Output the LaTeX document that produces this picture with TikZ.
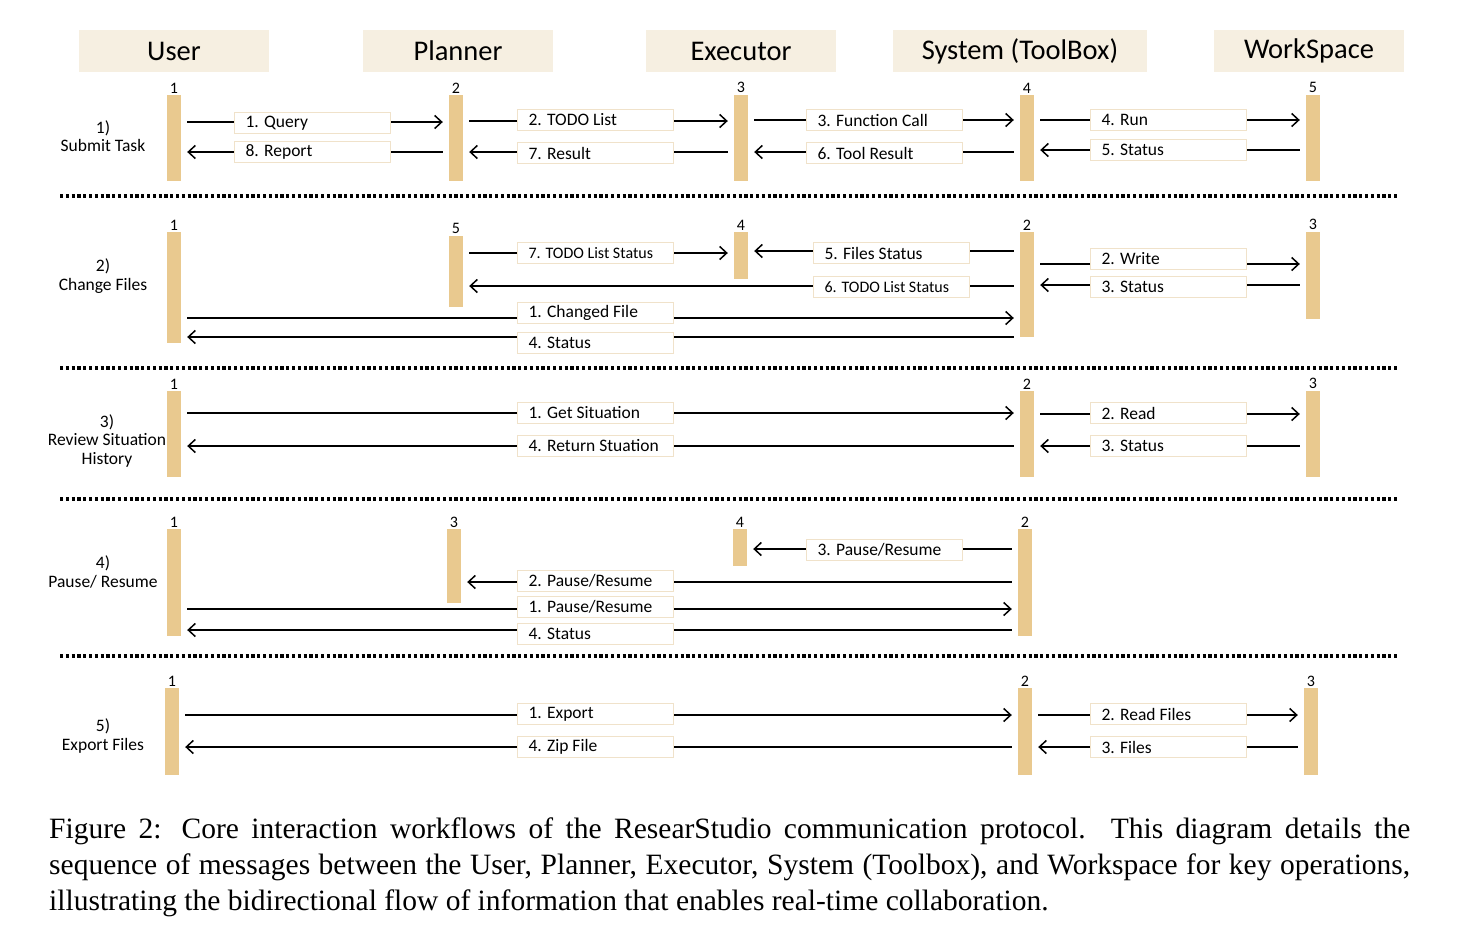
\documentclass[tikz,border=0pt]{standalone}
\usepackage{fontspec}
\setmainfont{Liberation Serif}
\setsansfont{Carlito}
\usetikzlibrary{arrows.meta}
\definecolor{barc}{HTML}{E9C98F}
\definecolor{headc}{HTML}{F6EFE1}
\definecolor{boxc}{HTML}{F0E2CA}
\newcommand\lifebar[5]{%
  \pgfmathsetmacro\lbh{#4-#3}\pgfmathsetmacro\lbm{(#3+#4)/2}%
  \node[lbar,minimum height=\lbh pt] (#1) at (#2,\lbm) {};
  \node[numlbl] (#1n) at (#1.north) {#5};}
\newcommand\mtxt[1]{\makebox[134pt][l]{#1}}
\begin{document}
\begin{tikzpicture}[x=1pt,y=-1pt,
  lbar/.style={rectangle,fill=barc,draw=none,minimum width=14pt,inner sep=0pt},
  numlbl/.style={anchor=south,inner sep=1.5pt,font=\sffamily\fontsize{16}{16}\selectfont},
  head/.style={fill=headc,minimum height=42pt,inner sep=0pt,font=\sffamily\fontsize{28.5}{28.5}\selectfont},
  msgbox/.style={fill=white,draw=boxc,line width=1.2pt,minimum width=156pt,minimum height=21pt,inner xsep=0pt,inner ysep=0pt,anchor=west,font=\sffamily\fontsize{17.5}{17.5}\selectfont},
  msgsmall/.style={msgbox,font=\sffamily\fontsize{16}{16}\selectfont},
  msg/.style={line width=1.5pt,-{Straight Barb[length=7pt,width=13pt,line width=1.5pt]},shorten <=6pt,shorten >=6pt},
  sepline/.style={line width=3.2pt,dash pattern=on 3.2pt off 2.6pt},
  sect/.style={align=center,inner sep=0pt,font=\sffamily\fontsize{17.5}{18.5}\selectfont}]
\useasboundingbox (0,0) rectangle (1458,948);
% headers
\node[head,minimum width=190pt] (hU) at (174,51) {User};
\node[head,minimum width=190pt] (hP) at (458,51) {Planner};
\node[head,minimum width=190pt] (hE) at (741,51) {Executor};
\node[head,minimum width=254pt] (hS) at (1020,51) {System (ToolBox)};
\node[head,minimum width=190pt] (hW) at (1309,51) {WorkSpace};
% separators
\coordinate (d1a) at (60,196); \coordinate (d1b) at (1398,196);
\coordinate (d2a) at (60,368); \coordinate (d2b) at (1398,368);
\coordinate (d3a) at (60,499); \coordinate (d3b) at (1398,499);
\coordinate (d4a) at (60,656); \coordinate (d4b) at (1398,656);
\draw[sepline] (d1a) -- (d1b);
\draw[sepline] (d2a) -- (d2b);
\draw[sepline] (d3a) -- (d3b);
\draw[sepline] (d4a) -- (d4b);
% section labels
\node[sect] (l1) at (103,136) {1)\\Submit Task};
\node[sect] (l2) at (103,276) {2)\\Change Files};
\node[sect] (l3) at (107,441) {3)\\Review Situation\\History};
\node[sect] (l4) at (103,572) {4)\\Pause/ Resume};
\node[sect] (l5) at (103,736) {5)\\Export Files};
% ---------- section 1
\lifebar{a1}{174}{95}{181}{1}
\lifebar{b1}{456}{95}{181}{2}
\lifebar{c1}{741}{95}{181}{3}
\lifebar{e1}{1027}{95}{181}{4}
\lifebar{f1}{1313}{95}{181}{5}
\draw[msg] (a1.east |- 0,122) -- (b1.west |- 0,122);
\draw[msg] (b1.west |- 0,152) -- (a1.east |- 0,152);
\draw[msg] (b1.east |- 0,121) -- (c1.west |- 0,121);
\draw[msg] (c1.west |- 0,152) -- (b1.east |- 0,152);
\draw[msg] (c1.east |- 0,120) -- (e1.west |- 0,120);
\draw[msg] (e1.west |- 0,152) -- (c1.east |- 0,152);
\draw[msg] (e1.east |- 0,120) -- (f1.west |- 0,120);
\draw[msg] (f1.west |- 0,150) -- (e1.east |- 0,150);
\node[msgbox] (m11) at (234,123) {\mtxt{1. Query}};
\node[msgbox] (m18) at (234,152) {\mtxt{8. Report}};
\node[msgbox] (m12) at (517,120) {\mtxt{2. TODO List}};
\node[msgbox] (m17) at (517,153) {\mtxt{7. Result}};
\node[msgbox] (m13) at (806,120) {\mtxt{3. Function Call}};
\node[msgbox] (m16) at (806,153) {\mtxt{6. Tool Result}};
\node[msgbox] (m14) at (1090,120) {\mtxt{4. Run}};
\node[msgbox] (m15) at (1090,150) {\mtxt{5. Status}};
% ---------- section 2
\lifebar{a2}{174}{232}{343}{1}
\lifebar{b2}{456}{236}{307}{5}
\lifebar{c2}{741}{232}{279}{4}
\lifebar{e2}{1027}{232}{337}{2}
\lifebar{f2}{1313}{232}{319}{3}
\draw[msg] (b2.east |- 0,253) -- (c2.west |- 0,253);
\draw[msg] (e2.west |- 0,251) -- (c2.east |- 0,251);
\draw[msg] (e2.west |- 0,286) -- (b2.east |- 0,286);
\draw[msg] (e2.east |- 0,264) -- (f2.west |- 0,264);
\draw[msg] (f2.west |- 0,285) -- (e2.east |- 0,285);
\draw[msg] (a2.east |- 0,318) -- (e2.west |- 0,318);
\draw[msg] (e2.west |- 0,337) -- (a2.east |- 0,337);
\node[msgsmall] (m27) at (517,253) {\mtxt{7. TODO List Status}};
\node[msgbox] (m25) at (813,253) {\mtxt{5. Files Status}};
\node[msgsmall] (m26) at (813,287) {\mtxt{6. TODO List Status}};
\node[msgbox] (m22) at (1090,259) {\mtxt{2. Write}};
\node[msgbox] (m23) at (1090,287) {\mtxt{3. Status}};
\node[msgbox] (m21) at (517,313) {\mtxt{1. Changed File}};
\node[msgbox] (m24) at (517,343) {\mtxt{4. Status}};
% ---------- section 3
\lifebar{a3}{174}{391}{477}{1}
\lifebar{e3}{1027}{391}{477}{2}
\lifebar{f3}{1313}{391}{477}{3}
\draw[msg] (a3.east |- 0,413) -- (e3.west |- 0,413);
\draw[msg] (e3.west |- 0,446) -- (a3.east |- 0,446);
\draw[msg] (e3.east |- 0,414) -- (f3.west |- 0,414);
\draw[msg] (f3.west |- 0,446) -- (e3.east |- 0,446);
\node[msgbox] (m31) at (517,413) {\mtxt{1. Get Situation}};
\node[msgbox] (m34) at (517,446) {\mtxt{4. Return Stuation}};
\node[msgbox] (m32) at (1090,413) {\mtxt{2. Read}};
\node[msgbox] (m33) at (1090,446) {\mtxt{3. Status}};
% ---------- section 4
\lifebar{a4}{174}{529}{636}{1}
\lifebar{b4}{454}{529}{603}{3}
\lifebar{c4}{740}{529}{566}{4}
\lifebar{e4}{1025}{529}{636}{2}
\draw[msg] (e4.west |- 0,549) -- (c4.east |- 0,549);
\draw[msg] (e4.west |- 0,582) -- (b4.east |- 0,582);
\draw[msg] (a4.east |- 0,609) -- (e4.west |- 0,609);
\draw[msg] (e4.west |- 0,630) -- (a4.east |- 0,630);
\node[msgbox] (m43) at (806,550) {\mtxt{3. Pause/Resume}};
\node[msgbox] (m42) at (517,581) {\mtxt{2. Pause/Resume}};
\node[msgbox] (m41) at (517,607) {\mtxt{1. Pause/Resume}};
\node[msgbox] (m44) at (517,634) {\mtxt{4. Status}};
% ---------- section 5
\lifebar{a5}{172}{688}{775}{1}
\lifebar{e5}{1025}{688}{775}{2}
\lifebar{f5}{1311}{688}{775}{3}
\draw[msg] (a5.east |- 0,715) -- (e5.west |- 0,715);
\draw[msg] (e5.west |- 0,747) -- (a5.east |- 0,747);
\draw[msg] (e5.east |- 0,715) -- (f5.west |- 0,715);
\draw[msg] (f5.west |- 0,747) -- (e5.east |- 0,747);
\node[msgbox] (m51) at (517,714) {\mtxt{1. Export}};
\node[msgbox] (m54) at (517,747) {\mtxt{4. Zip File}};
\node[msgbox] (m52) at (1090,714) {\mtxt{2. Read Files}};
\node[msgbox] (m53) at (1090,747) {\mtxt{3. Files}};
% caption
\node[anchor=north west,inner sep=0pt,text width=1361pt,align=justify,font=\fontsize{29.5}{36}\selectfont] (cap) at (49,818)
{Figure 2: Core interaction workflows of the ResearStudio communication protocol. This diagram details the\linebreak sequence of messages between the User, Planner, Executor, System (Toolbox), and Workspace for key operations,\linebreak illustrating the bidirectional flow of information that enables real-time collaboration.};
\end{tikzpicture}
\end{document}
